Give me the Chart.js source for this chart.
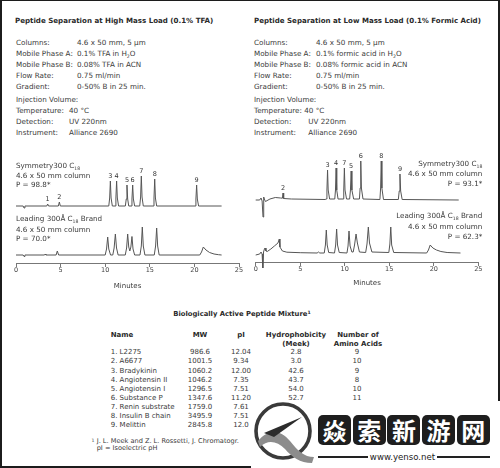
<!DOCTYPE html>
<html>
<head>
<meta charset="utf-8">
<script src="https://cdn.jsdelivr.net/npm/chart.js@4.4.1/dist/chart.umd.min.js"></script>
<style>
  body { margin: 0; background: #fff; }
  #page { position: relative; width: 500px; height: 468px; overflow: hidden; background: #fff;
          font-family: "DejaVu Sans", Verdana, sans-serif; color: #3a3a3a; }
  .frame { position: absolute; left: 0; top: 0; width: 500px; height: 468px; box-sizing: border-box;
           border: 2px solid #1c1c1c; border-top-width: 1px; }
  .t { position: absolute; white-space: nowrap; font-size: 7.2px; line-height: 10px; }
  .b { font-weight: bold; color: #2a2a2a; }
  .r { text-align: right; }
  .c { text-align: center; }
  sub { font-size: 4.6px; vertical-align: -1.5px; line-height: 0; }
  sup { font-size: 4.6px; vertical-align: 2.5px; line-height: 0; }
  canvas { position: absolute; }
  .col { position: absolute; white-space: nowrap; font-size: 7px; line-height: 9.1px; top: 348.4px; }
  #wm { position: absolute; left: 251px; top: 401px; width: 249px; height: 67px; background: #fff; }
  .zi { position: absolute; top: 14px; width: 33px; height: 30px; background: #1e1e1e; border-radius: 5px;
        color: #fff; font-family: "Noto Sans CJK SC"; font-weight: bold; font-size: 24px; line-height: 30px; text-align: center; }
</style>
</head>
<body>
<div id="page">
  <div class="frame"></div>

  <!-- left panel text -->
  <div class="t b" data-w="198" style="left:15px;top:15.7px">Peptide Separation at High Mass Load (0.1% TFA)</div>
  <div class="t" style="left:16px;top:38px">Columns:</div>
  <div class="t" style="left:16px;top:48.5px">Mobile Phase A:</div>
  <div class="t" style="left:16px;top:59.5px">Mobile Phase B:</div>
  <div class="t" style="left:16px;top:71px">Flow Rate:</div>
  <div class="t" style="left:16px;top:82px">Gradient:</div>
  <div class="t" style="left:16px;top:95px">Injection Volume:</div>
  <div class="t" style="left:16px;top:106px">Temperature:</div>
  <div class="t" style="left:16px;top:117px">Detection:</div>
  <div class="t" style="left:16px;top:128px">Instrument:</div>
  <div class="t" style="left:77px;top:38px">4.6 x 50 mm, 5 µm</div>
  <div class="t" style="left:77px;top:48.5px">0.1% TFA in H<sub>2</sub>O</div>
  <div class="t" style="left:77px;top:59.5px">0.08% TFA in ACN</div>
  <div class="t" style="left:77px;top:71px">0.75 ml/min</div>
  <div class="t" style="left:77px;top:82px">0-50% B in 25 min.</div>
  <div class="t" style="left:69px;top:106px">40 °C</div>
  <div class="t" style="left:69px;top:117px">UV 220nm</div>
  <div class="t" style="left:69px;top:128px">Alliance 2690</div>

  <!-- right panel text -->
  <div class="t b" data-w="227" style="left:254px;top:15.7px">Peptide Separation at Low Mass Load (0.1% Formic Acid)</div>
  <div class="t" style="left:254px;top:38px">Columns:</div>
  <div class="t" style="left:254px;top:48.5px">Mobile Phase A:</div>
  <div class="t" style="left:254px;top:60px">Mobile Phase B:</div>
  <div class="t" style="left:254px;top:71px">Flow Rate:</div>
  <div class="t" style="left:254px;top:82px">Gradient:</div>
  <div class="t" style="left:254px;top:95px">Injection Volume:</div>
  <div class="t" style="left:254px;top:106px">Temperature:</div>
  <div class="t" style="left:254px;top:117px">Detection:</div>
  <div class="t" style="left:254px;top:128px">Instrument:</div>
  <div class="t" style="left:316px;top:38px">4.6 x 50 mm, 5 µm</div>
  <div class="t" style="left:316px;top:48.5px">0.1% formic acid in H<sub>2</sub>O</div>
  <div class="t" style="left:316px;top:60px">0.08% formic acid in ACN</div>
  <div class="t" style="left:316px;top:71px">0.75 ml/min</div>
  <div class="t" style="left:316px;top:82px">0-50% B in 25 min.</div>
  <div class="t" style="left:304.3px;top:106px">40 °C</div>
  <div class="t" style="left:308.3px;top:117px">UV 220nm</div>
  <div class="t" style="left:308.3px;top:128px">Alliance 2690</div>

  <canvas id="tfaChart" width="250" height="160" style="left:0;top:140px"></canvas>
  <canvas id="faChart" width="250" height="160" style="left:250px;top:140px"></canvas>

  <!-- column captions inside the chromatograms -->
  <div class="t" style="left:16px;top:161px">Symmetry300 C<sub>18</sub></div>
  <div class="t" style="left:16px;top:171px">4.6 x 50 mm column</div>
  <div class="t" style="left:16px;top:180px">P = 98.8*</div>
  <div class="t" style="left:16px;top:214.3px">Leading 300Å C<sub>18</sub> Brand</div>
  <div class="t" style="left:16px;top:225px">4.6 x 50 mm column</div>
  <div class="t" style="left:16px;top:234px">P = 70.0*</div>

  <div class="t r" style="right:17.7px;top:159.3px">Symmetry300 C<sub>18</sub></div>
  <div class="t r" style="right:17.7px;top:169.3px">4.6 x 50 mm column</div>
  <div class="t r" style="right:17.7px;top:179.3px">P = 93.1*</div>
  <div class="t r" style="right:17.7px;top:211px">Leading 300Å C<sub>18</sub> Brand</div>
  <div class="t r" style="right:17.7px;top:221.7px">4.6 x 50 mm column</div>
  <div class="t r" style="right:17.7px;top:231.7px">P = 62.3*</div>

  <!-- peptide table -->
  <div class="t b" data-w="137" style="left:173.3px;top:309.3px">Biologically Active Peptide Mixture<sup>1</sup></div>
  <div class="t b" style="left:110.7px;top:330px;font-size:7px">Name</div>
  <div class="t b c" style="left:180px;width:40px;top:330px;font-size:7px">MW</div>
  <div class="t b c" style="left:221px;width:40px;top:330px;font-size:7px">pI</div>
  <div class="t b c" style="left:256px;width:80px;top:330.5px;font-size:7px;line-height:9px">Hydrophobicity<br>(Meek)</div>
  <div class="t b c" style="left:318px;width:80px;top:330.5px;font-size:7px;line-height:9px">Number of<br>Amino Acids</div>
  <div class="col" id="colName" style="left:110.7px"></div>
  <div class="col c" id="colMW" style="left:180px;width:40px"></div>
  <div class="col c" id="colPI" style="left:221px;width:40px"></div>
  <div class="col c" id="colHyd" style="left:276px;width:40px"></div>
  <div class="col c" id="colAA" style="left:337px;width:40px"></div>
  <div class="t" style="left:91.5px;top:437.7px;font-size:6.6px;line-height:8px"><sup>1</sup></div>
  <div class="t" style="left:96.7px;top:437.7px;font-size:6.6px;line-height:7px">J. L. Meek and Z. L. Rossetti, J. Chromatogr.</div>
  <div class="t" style="left:96.7px;top:444.5px;font-size:6.6px;line-height:7px">pI = Isoelectric pH</div>

  <!-- site watermark -->
  <div id="wm">
    <svg style="position:absolute;left:1px;top:0" width="64" height="62" viewBox="0 0 64 62">
      <circle cx="31" cy="30" r="27" fill="none" stroke="#3a3a3a" stroke-width="3.6"/>
      <path d="M6 40 C 16 28, 28 28, 38 40 C 46 50, 52 56, 62 56 L 60 62 C 48 62, 40 56, 33 48 C 25 40, 16 38, 8 46 Z" fill="#8c8c8c"/>
      <path d="M12 32 L 50 16 L 22 36 Z" fill="#2c2c2c"/>
    </svg>
    <div class="zi" style="left:67px">焱</div>
    <div class="zi" style="left:101.7px">索</div>
    <div class="zi" style="left:136.4px">新</div>
    <div class="zi" style="left:171.1px">游</div>
    <div class="zi" style="left:205.8px">网</div>
    <div style="position:absolute;left:67px;top:55px;width:50px;height:1.6px;background:#222"></div>
    <div style="position:absolute;left:186px;top:55px;width:53px;height:1.6px;background:#222"></div>
    <div style="position:absolute;left:117px;width:69px;top:50.5px;font-size:8.6px;line-height:10px;text-align:center;color:#222;font-family:'DejaVu Sans'">www.yenso.net</div>
  </div>
</div>

<script>
// Symmetry300 C18, 0.1% TFA (minutes, signal)
const symTfaTrace = [
  [0, 0], [0.8, 0], [0.9, -2], [1.0, 0], [3.45, 0], [3.55, 2], [3.65, 0], [4.75, 0], [4.86, 4], [4.97, 0],
  [10.4, 0], [10.5, 8], [10.58, 25], [10.66, 8], [10.8, 0],
  [11.1, 0], [11.2, 8], [11.28, 25], [11.36, 8], [11.5, 0],
  [12.26, 0], [12.36, 7], [12.44, 21], [12.52, 7], [12.64, 0],
  [12.9, 0], [13.0, 7], [13.08, 21], [13.16, 7], [13.3, 0],
  [13.87, 0], [13.97, 9], [14.05, 30], [14.13, 9], [14.27, 0],
  [15.37, 0], [15.47, 8], [15.55, 27], [15.63, 8], [15.77, 0],
  [20.07, 0], [20.17, 7], [20.25, 21], [20.33, 7], [20.47, 0], [23.05, 0]
];
// Leading 300A C18 brand, 0.1% TFA
const leadTfaTrace = [
  [0, 0], [0.8, 0], [0.9, -1.5], [1.0, 0], [3.2, 0], [3.27, 1], [3.35, 0], [4.5, 0], [4.63, 4], [4.78, 0],
  [10.0, 0], [10.15, 6], [10.28, 18], [10.4, 6], [10.6, 0],
  [10.85, 0], [11.0, 7], [11.14, 21], [11.27, 7], [11.45, 0],
  [12.25, 0], [12.4, 7], [12.52, 21], [12.64, 8], [12.76, 4], [12.88, 8], [13.0, 18.5], [13.12, 6], [13.3, 0],
  [13.9, 0], [14.05, 9], [14.16, 28], [14.27, 9], [14.45, 0],
  [15.5, 0], [15.65, 9], [15.77, 27], [15.88, 9], [16.05, 0],
  [20.6, 0], [20.8, 3], [21.0, 8], [21.3, 5], [21.7, 2.5], [22.2, 1], [22.7, 0.3], [23.05, 0]
];
// Symmetry300 C18, 0.1% formic acid
const symFaTrace = [
  [0, 0], [0.45, 0], [0.6, 2], [0.72, -1], [0.82, -17], [0.9, 3], [0.97, 1], [1.1, -1.5], [1.6, 1], [2.2, 2.5],
  [2.8, 2], [3.0, 1.8], [3.07, 7], [3.14, 1.5], [4.0, 1], [7.8, 0.5],
  [7.92, 1], [8.0, 10], [8.07, 30], [8.14, 10], [8.3, 1],
  [8.88, 1], [8.96, 10], [9.03, 32], [9.1, 10], [9.25, 1],
  [9.81, 1], [9.89, 10], [9.96, 32], [10.03, 10], [10.2, 1],
  [10.55, 1], [10.64, 10], [10.72, 29], [10.8, 10], [11.0, 1],
  [11.65, 1], [11.73, 12], [11.8, 39], [11.87, 12], [12.05, 1],
  [13.95, 0.5], [14.03, 12], [14.1, 39], [14.17, 12], [14.35, 0.5],
  [16.02, 0.5], [16.12, 9], [16.2, 26], [16.28, 9], [16.45, 0.5], [22.8, 0]
];
// Leading 300A C18 brand, 0.1% formic acid
const leadFaTrace = [
  [0, -2], [0.45, -1], [0.6, 1], [0.72, -1], [0.8, -15], [0.88, 1], [0.98, 4], [1.05, 5], [1.15, 2], [1.3, 1.5],
  [1.7, 4], [2.1, 7], [2.5, 10], [2.65, 14], [2.72, 6], [3.0, 2], [3.5, 0.8], [5.0, 0.3], [6.9, 0], [7.05, 1], [7.2, 0],
  [7.7, 0], [7.83, 8], [7.93, 23], [8.03, 8], [8.2, 0.5],
  [8.85, 0], [8.98, 8], [9.09, 24], [9.19, 8], [9.38, 0.5],
  [10.25, 0], [10.37, 7], [10.48, 22], [10.6, 7], [10.8, 1],
  [10.95, 1], [11.1, 8], [11.27, 19], [11.42, 10], [11.65, 1],
  [12.35, 0.5], [12.5, 9], [12.65, 26], [12.78, 10], [13.05, 1],
  [14.95, 0.5], [15.07, 9], [15.17, 26], [15.27, 8], [15.5, 0.5],
  [19.2, 0], [19.4, 3], [19.6, 8], [19.9, 5], [20.3, 3], [20.8, 1.5], [21.5, 0.5], [23.0, 0]
];

// peak numbers on the Symmetry traces
const tfaPeakNo = ['1', '2', '3', '4', '5', '6', '7', '8', '9'];
const tfaPeakMin = [3.55, 4.86, 10.58, 11.28, 12.44, 13.08, 14.05, 15.55, 20.25];
const tfaPeakHeight = [2, 4, 25, 25, 21, 21, 30, 27, 21];
const faPeakNo = ['2', '3', '4', '7', '5', '6', '8', '9'];
const faPeakMin = [3.07, 8.07, 9.03, 9.96, 10.72, 11.8, 14.1, 16.2];
const faPeakHeight = [7, 30, 32, 32, 29, 39, 39, 26];

const minuteTicks = [0, 5, 10, 15, 20, 25];

// peptide table
const peptideNames = ['1. L2275', '2. A6677', '3. Bradykinin', '4. Angiotensin II', '5. Angiotensin I',
  '6. Substance P', '7. Renin substrate', '8. Insulin B chain', '9. Melittin'];
const peptideMW = ['986.6', '1001.5', '1060.2', '1046.2', '1296.5', '1347.6', '1759.0', '3495.9', '2845.8'];
const peptidePI = ['12.04', '9.34', '12.00', '7.35', '7.51', '11.20', '7.61', '7.51', '12.0'];
const peptideHydro = ['2.8', '3.0', '42.6', '43.7', '54.0', '52.7', '', '', ''];
const peptideAminoAcids = ['9', '10', '9', '8', '10', '11', '', '', ''];

document.getElementById('colName').innerHTML = peptideNames.join('<br>');
document.getElementById('colMW').innerHTML = peptideMW.join('<br>');
document.getElementById('colPI').innerHTML = peptidePI.join('<br>');
document.getElementById('colHyd').innerHTML = peptideHydro.join('<br>');
document.getElementById('colAA').innerHTML = peptideAminoAcids.join('<br>');

// squeeze the bold titles to the widths seen in the picture
document.querySelectorAll('[data-w]').forEach(function (el) {
  var w = el.getBoundingClientRect().width;
  var fs = parseFloat(getComputedStyle(el).fontSize);
  el.style.fontSize = (fs * el.dataset.w / w) + 'px';
});

Chart.defaults.font.family = '"DejaVu Sans", Verdana, sans-serif';
Chart.defaults.color = '#444';

const peakLabelPlugin = {
  id: 'peakLabels',
  afterDatasetsDraw(chart, args, opts) {
    const ctx = chart.ctx;
    const xs = chart.scales.x;
    const ys = chart.scales[opts.axis];
    ctx.save();
    ctx.font = '6.5px "DejaVu Sans"';
    ctx.fillStyle = '#333';
    ctx.textAlign = 'center';
    ctx.textBaseline = 'bottom';
    opts.labels.forEach(function (lab, i) {
      ctx.fillText(lab, xs.getPixelForValue(opts.times[i]), ys.getPixelForValue(opts.heights[i]) - 1.5);
    });
    ctx.restore();
  }
};

function traceDataset(points, axis) {
  return {
    data: points.map(p => ({ x: p[0], y: p[1] })),
    yAxisID: axis,
    borderColor: '#555',
    borderWidth: 1,
    pointRadius: 0,
    tension: 0,
    clip: false
  };
}

function chromChart(id, topTrace, botTrace, pad, axisHeight, topRange, botRange, peaks) {
  return new Chart(document.getElementById(id), {
    type: 'line',
    data: { datasets: [traceDataset(topTrace, 'yTop'), traceDataset(botTrace, 'yBot')] },
    options: {
      responsive: false,
      animation: false,
      devicePixelRatio: 1,
      events: [],
      layout: { padding: pad },
      plugins: { legend: { display: false }, tooltip: { enabled: false }, peakLabels: peaks },
      scales: {
        x: {
          type: 'linear', min: 0, max: 25,
          afterBuildTicks: s => { s.ticks = minuteTicks.map(v => ({ value: v })); },
          afterFit: s => { s.height = axisHeight; },
          grid: { drawOnChartArea: false, drawTicks: true, tickLength: 4, color: '#777', lineWidth: 1 },
          border: { display: true, color: '#777', width: 1 },
          ticks: { padding: 0, maxRotation: 0, autoSkip: false, color: '#444', font: { size: 6.5, lineHeight: 1 } },
          title: { display: true, text: 'Minutes', color: '#3a3a3a', padding: 0, font: { size: 7, lineHeight: 1.2 } }
        },
        yTop: { display: false, min: topRange[0], max: topRange[1] },
        yBot: { display: false, min: botRange[0], max: botRange[1] }
      }
    },
    plugins: [peakLabelPlugin]
  });
}

chromChart('tfaChart', symTfaTrace, leadTfaTrace,
  { left: 16, right: 11, top: 10, bottom: 10 }, 27, [-57, 56], [-8, 105],
  { axis: 'yTop', labels: tfaPeakNo, times: tfaPeakMin, heights: tfaPeakHeight });

chromChart('faChart', symFaTrace, leadFaTrace,
  { left: 5.7, right: 21.7, top: 10, bottom: 13 }, 25, [-62, 50], [-9, 103],
  { axis: 'yTop', labels: faPeakNo, times: faPeakMin, heights: faPeakHeight });
</script>
</body>
</html>
